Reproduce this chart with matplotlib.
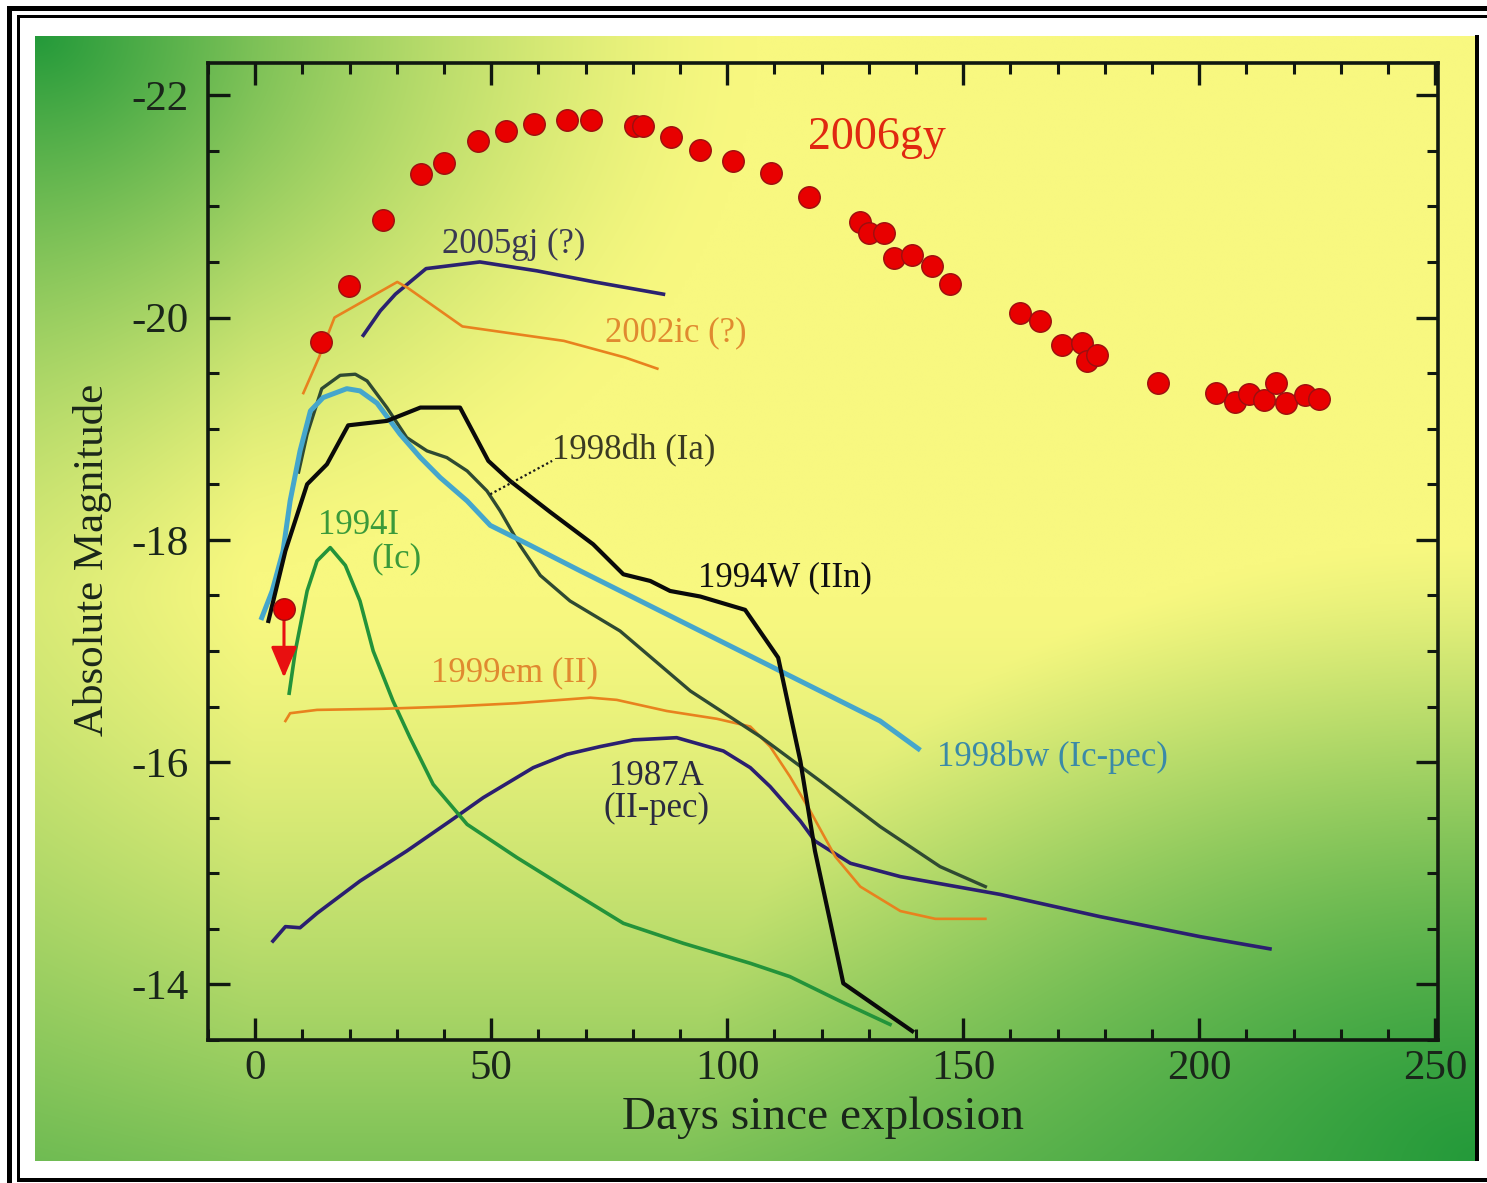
import numpy as np
import matplotlib
matplotlib.use("Agg")
import matplotlib.pyplot as plt
from matplotlib.patches import Rectangle
from matplotlib.ticker import MultipleLocator

plt.rcParams['axes.unicode_minus'] = False
plt.rcParams['font.family'] = ['Liberation Serif', 'DejaVu Serif']

# ---------------- data ----------------
sn2006gy_days = [14.0, 19.9, 27.1, 35.2, 40.1, 47.3, 53.2, 59.0, 66.1, 71.1, 80.4, 82.1,
                 88.2, 94.2, 101.2, 109.3, 117.3, 128.2, 130.1, 133.3, 135.4, 139.2,
                 143.4, 147.2, 162.1, 166.3, 171.0, 175.2, 176.3, 178.4, 191.3, 203.6,
                 207.6, 210.6, 213.8, 216.3, 218.5, 222.5, 225.4]
sn2006gy_mag = [-19.78, -20.28, -20.88, -21.29, -21.39, -21.59, -21.68, -21.74, -21.78,
                -21.78, -21.72, -21.72, -21.62, -21.51, -21.41, -21.30, -21.08, -20.86,
                -20.76, -20.76, -20.54, -20.56, -20.46, -20.30, -20.04, -19.97, -19.75,
                -19.77, -19.61, -19.66, -19.41, -19.32, -19.24, -19.31, -19.26, -19.41,
                -19.23, -19.30, -19.27]
sn2006gy_limit_day = 6.1
sn2006gy_limit_mag = -17.38

sn1987A_days = [3.75, 6.4, 9.5, 13.1, 22.2, 32.1, 41.3, 48.3, 58.9, 66.0, 73.1, 80.1, 89.3,
                99.2, 104.9, 109.1, 115.5, 118.6, 126.1, 136.7, 157.8, 179.0, 200.2, 215.0]
sn1987A_mag = [-14.39, -14.52, -14.51, -14.64, -14.93, -15.20, -15.47, -15.68, -15.95,
               -16.07, -16.14, -16.20, -16.22, -16.10, -15.95, -15.78, -15.47, -15.29,
               -15.09, -14.97, -14.81, -14.61, -14.43, -14.32]

sn1994I_days = [7.2, 8.5, 11.0, 13.1, 15.9, 19.1, 22.2, 25.0, 29.2, 32.8, 37.7, 44.9, 55.5,
                66.1, 78.0, 90.7, 104.9, 113.3, 123.9, 134.5]
sn1994I_mag = [-16.62, -17.00, -17.54, -17.81, -17.93, -17.77, -17.45, -17.00, -16.55,
               -16.22, -15.80, -15.44, -15.14, -14.86, -14.55, -14.37, -14.19, -14.07,
               -13.85, -13.64]

sn1999em_days = [6.4, 7.4, 13.1, 27.1, 41.3, 55.4, 71.0, 76.6, 87.2, 97.8, 104.9, 109.1,
                 113.3, 117.6, 122.9, 128.2, 136.7, 144.1, 154.7]
sn1999em_mag = [-16.37, -16.44, -16.47, -16.48, -16.50, -16.53, -16.58, -16.56, -16.46,
                -16.39, -16.32, -16.14, -15.87, -15.56, -15.15, -14.88, -14.66, -14.59,
                -14.59]

sn1998dh_days = [9.2, 11.0, 14.1, 18.0, 21.2, 23.7, 27.9, 32.1, 36.4, 40.6, 44.9, 49.1, 51.9,
                 56.1, 60.4, 66.7, 77.3, 92.2, 107.0, 119.7, 132.4, 145.1, 154.7]
sn1998dh_mag = [-18.61, -18.95, -19.36, -19.48, -19.49, -19.43, -19.19, -18.92, -18.80,
                -18.74, -18.62, -18.44, -18.26, -17.95, -17.68, -17.45, -17.18, -16.64,
                -16.23, -15.83, -15.42, -15.06, -14.88]

sn1998bw_days = [1.4, 3.6, 5.9, 7.4, 9.5, 11.7, 14.4, 19.4, 22.2, 25.8, 30.7, 35.0, 39.2,
                 44.9, 49.8, 58.3, 68.9, 81.6, 94.3, 107.0, 119.7, 132.4, 140.5]
sn1998bw_mag = [-17.30, -17.54, -17.90, -18.35, -18.80, -19.16, -19.28, -19.36, -19.34,
                -19.23, -18.95, -18.74, -18.56, -18.35, -18.13, -17.95, -17.72, -17.45,
                -17.18, -16.91, -16.64, -16.37, -16.12]

sn1994W_days = [2.8, 6.4, 11.0, 15.2, 19.7, 27.9, 35.0, 43.4, 49.4, 54.0, 62.5, 71.6, 78.0,
                83.7, 87.9, 94.3, 103.8, 110.8, 115.5, 118.6, 121.8, 124.6, 139.2]
sn1994W_mag = [-17.27, -17.90, -18.50, -18.68, -19.03, -19.07, -19.19, -19.19, -18.71,
               -18.53, -18.25, -17.96, -17.69, -17.63, -17.54, -17.49, -17.37, -16.94,
               -16.01, -15.20, -14.57, -14.01, -13.58]

sn2005gj_days = [22.9, 26.5, 29.7, 36.2, 47.6, 59.7, 71.9, 86.5]
sn2005gj_mag = [-19.84, -20.06, -20.21, -20.44, -20.50, -20.42, -20.32, -20.21]

sn2002ic_days = [10.2, 13.5, 16.8, 30.1, 32.2, 43.9, 65.4, 78.4, 85.2]
sn2002ic_mag = [-19.32, -19.64, -20.00, -20.32, -20.27, -19.92, -19.79, -19.64, -19.54]

x_ticks = [0, 50, 100, 150, 200, 250]
y_ticks = [-22, -20, -18, -16, -14]
y_tick_labels = ['-22', '-20', '-18', '-16', '-14']

# ---------------- figure ----------------
W, H = 1487, 1183
fig = plt.figure(figsize=(W / 100, H / 100), dpi=100)
fig.patch.set_facecolor('white')


def px_rect(x0, y0, x1, y1):
    return [x0 / W, 1 - y1 / H, (x1 - x0) / W, (y1 - y0) / H]


# gradient background
bg = fig.add_axes(px_rect(35, 36, 1476, 1161))
bg.axis('off')
nx, ny = 400, 320
U, V = np.meshgrid(np.linspace(0, 1, nx), np.linspace(0, 1, ny))
r_tl = np.sqrt(U ** 2 + V ** 2)
r_br = np.sqrt((1 - U) ** 2 + (1 - V) ** 2)
w_tl = np.clip(1 - r_tl / 0.5, 0, 1) ** 1.5
w_br = np.clip(1 - r_br / 0.55, 0, 1) ** 1.1
w_b = np.clip((V - 0.5) / 0.5, 0, 1) ** 1.4 * 0.58
w_l = np.clip((0.15 - U) / 0.15, 0, 1) * 0.15
w = 1 - (1 - w_tl) * (1 - w_br) * (1 - w_b) * (1 - w_l)
yellow = np.array([248, 248, 128]) / 255
green = np.array([36, 154, 58]) / 255
img = yellow[None, None, :] * (1 - w[..., None]) + green[None, None, :] * w[..., None]
bg.imshow(img, aspect='auto', extent=[0, 1, 1, 0], interpolation='bilinear')
bg.set_xlim(0, 1)
bg.set_ylim(1, 0)

# frame bars
for (x0, y0, x1, y1) in [(7, 6, 1487, 11), (7, 6, 12, 1183), (17, 15, 1487, 18),
                         (17, 15, 20, 1182), (17, 1178, 1487, 1182), (1475, 35, 1479, 1161)]:
    fig.add_artist(Rectangle((x0 / W, 1 - y1 / H), (x1 - x0) / W, (y1 - y0) / H,
                             transform=fig.transFigure, color='black', lw=0))

ax = fig.add_axes(px_rect(208, 63, 1438, 1040))
ax.set_facecolor('none')

ax.plot(sn1987A_days, sn1987A_mag, color='#2b1f70', lw=2.6, zorder=3)
ax.plot(sn1994I_days, sn1994I_mag, color='#23933a', lw=2.6, zorder=3)
ax.plot(sn1999em_days, sn1999em_mag, color='#e8821e', lw=1.9, zorder=3)
ax.plot(sn1998dh_days, sn1998dh_mag, color='#2f4a32', lw=2.4, zorder=3)
ax.plot(sn1998bw_days, sn1998bw_mag, color='#45a6cc', lw=3.6, zorder=3)
ax.plot(sn1994W_days, sn1994W_mag, color='#0a0a0a', lw=3.0, zorder=4)
ax.plot(sn2005gj_days, sn2005gj_mag, color='#2b2270', lw=2.6, zorder=3)
ax.plot(sn2002ic_days, sn2002ic_mag, color='#e8821e', lw=1.9, zorder=3)

ax.plot(sn2006gy_days, sn2006gy_mag, 'o', color='#e80000', ms=15.5, mec='#9a1010',
        mew=1.0, zorder=6, linestyle='none')
ax.annotate('', xy=(sn2006gy_limit_day, sn2006gy_limit_mag + 0.62),
            xytext=(sn2006gy_limit_day, sn2006gy_limit_mag),
            arrowprops=dict(arrowstyle='-|>,head_width=0.4,head_length=0.95',
                            color='#e81010', lw=2.2, shrinkA=0, shrinkB=0,
                            mutation_scale=20), zorder=5)
ax.plot([sn2006gy_limit_day], [sn2006gy_limit_mag], 'o', color='#e80000', ms=15.5,
        mec='#9a1010', mew=1.0, zorder=6)

# dotted leader for 1998dh
ax.plot([49.8, 62.9], [-18.41, -18.71], color='#1a1a1a', lw=1.6, ls=(0, (1, 1.2)), zorder=5)

# labels
lbl = dict(ha='center', va='center', fontsize=25, zorder=7)
ax.text(131.8, -21.62, '2006gy', color='#e02810', fontsize=33, ha='center', va='center')
ax.text(54.7, -20.66, '2005gj (?)', color='#3a3852', **lbl)
ax.text(89.2, -19.86, '2002ic (?)', color='#e08a30', **lbl)
ax.text(80.1, -18.80, '1998dh (Ia)', color='#3a3a22', **lbl)
ax.text(21.8, -18.13, '1994I', color='#3a9a3a', **lbl)
ax.text(29.9, -17.83, '(Ic)', color='#3a9a3a', **lbl)
ax.text(112.3, -17.66, '1994W (IIn)', color='#101010', **lbl)
ax.text(54.9, -16.80, '1999em (II)', color='#e08a30', **lbl)
ax.text(168.9, -16.04, '1998bw (Ic-pec)', color='#3a8aa8', **lbl)
ax.text(85.0, -15.87, '1987A', color='#2a2a40', **lbl)
ax.text(85.0, -15.58, '(II-pec)', color='#2a2a40', **lbl)

ax.set_xlim(-10, 250.6)
ax.set_ylim(-13.5, -22.29)
ax.set_xticks(x_ticks)
ax.set_yticks(y_ticks)
ax.set_yticklabels(y_tick_labels)
ax.xaxis.set_minor_locator(MultipleLocator(10))
ax.yaxis.set_minor_locator(MultipleLocator(0.5))
ax.tick_params(which='both', direction='in', top=True, right=True, color='#101810')
ax.tick_params(which='major', length=16, width=2.4, labelsize=31, labelcolor='#1a261a')
ax.tick_params(which='minor', length=8, width=2.2)
ax.tick_params(axis='x', which='major', pad=7)
ax.tick_params(axis='y', which='major', pad=14)
for s in ax.spines.values():
    s.set_linewidth(2.6)
    s.set_color('#101810')

ax.set_xlabel('Days since explosion', fontsize=34, color='#1a261a', va='center')
ax.xaxis.set_label_coords(0.5, -0.0798)
ax.set_ylabel('Absolute Magnitude', fontsize=31, color='#1a261a', va='center')
ax.yaxis.set_label_coords(-0.0935, 0.491)

fig.savefig('out.png', dpi=100, facecolor='white')
